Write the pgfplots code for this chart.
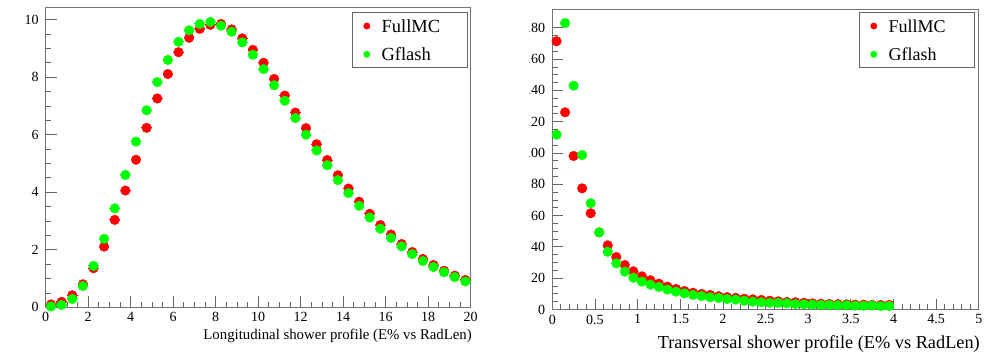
\documentclass[border=0pt]{standalone}
\usepackage{pgfplots}
\pgfplotsset{compat=1.18}
\usepackage{pgfplotstable}
\usepackage{fontspec}
\setmainfont{Liberation Serif}

\definecolor{mcred}{RGB}{255,0,0}
\definecolor{gfgreen}{RGB}{0,255,0}

% Longitudinal profile: energy fraction (%) per 0.5 X0 bin
\pgfplotstableread{
x    y
0.25 0.10
0.75 0.19
1.25 0.42
1.75 0.80
2.25 1.36
2.75 2.11
3.25 3.04
3.75 4.06
4.25 5.13
4.75 6.24
5.25 7.26
5.75 8.11
6.25 8.87
6.75 9.37
7.25 9.68
7.75 9.82
8.25 9.85
8.75 9.66
9.25 9.35
9.75 8.95
10.25 8.50
10.75 7.94
11.25 7.36
11.75 6.77
12.25 6.23
12.75 5.67
13.25 5.12
13.75 4.59
14.25 4.13
14.75 3.67
15.25 3.25
15.75 2.86
16.25 2.53
16.75 2.20
17.25 1.92
17.75 1.68
18.25 1.47
18.75 1.27
19.25 1.10
19.75 0.95
}\longfull

\pgfplotstableread{
x    y
0.25 0.03
0.75 0.08
1.25 0.29
1.75 0.74
2.25 1.44
2.75 2.38
3.25 3.44
3.75 4.60
4.25 5.76
4.75 6.85
5.25 7.83
5.75 8.60
6.25 9.23
6.75 9.63
7.25 9.85
7.75 9.92
8.25 9.79
8.75 9.58
9.25 9.21
9.75 8.78
10.25 8.28
10.75 7.72
11.25 7.18
11.75 6.58
12.25 6.00
12.75 5.45
13.25 4.94
13.75 4.42
14.25 3.97
14.75 3.53
15.25 3.12
15.75 2.73
16.25 2.41
16.75 2.12
17.25 1.85
17.75 1.61
18.25 1.40
18.75 1.22
19.25 1.05
19.75 0.90
}\longgflash

% Transversal profile: energy fraction per 0.1 bin
\pgfplotstableread{
x    y
0.05 171.4
0.15 126.0
0.25 98.1
0.35 77.4
0.45 61.5
0.55 49.3
0.65 41.0
0.75 33.5
0.85 28.4
0.95 24.4
1.05 21.2
1.15 18.7
1.25 16.5
1.35 14.6
1.45 13.1
1.55 11.8
1.65 10.7
1.75 9.9
1.85 9.3
1.95 8.5
2.05 7.9
2.15 7.4
2.25 6.9
2.35 6.5
2.45 6.1
2.55 5.6
2.65 5.2
2.75 4.8
2.85 4.6
2.95 4.3
3.05 3.9
3.15 3.7
3.25 3.5
3.35 3.4
3.45 3.3
3.55 3.1
3.65 3.1
3.75 3.0
3.85 2.9
3.95 2.9
}\transfull

\pgfplotstableread{
x    y
0.05 111.7
0.15 183.0
0.25 143.0
0.35 98.7
0.45 67.9
0.55 49.3
0.65 36.9
0.75 29.5
0.85 24.2
0.95 20.3
1.05 17.8
1.15 15.9
1.25 14.4
1.35 12.7
1.45 11.4
1.55 10.3
1.65 9.3
1.75 8.6
1.85 7.8
1.95 7.4
2.05 6.7
2.15 6.3
2.25 5.6
2.35 5.0
2.45 4.6
2.55 4.3
2.65 4.2
2.75 4.0
2.85 3.5
2.95 3.3
3.05 3.1
3.15 2.9
3.25 2.9
3.35 2.7
3.45 2.7
3.55 2.4
3.65 2.4
3.75 2.6
3.85 2.2
3.95 2.2
}\transgflash

\pgfplotsset{
  rootframe/.style={
    scale only axis,
    axis line style={black!55, line width=0.8pt},
    tick style={black!60, line width=0.8pt},
    tick align=inside,
    xtick pos=left, ytick pos=left,
    major tick length=11pt, minor tick length=5.5pt,
    /pgf/number format/assume math mode=true,
    xticklabel={\pgfmathprintnumber{\tick}},
    yticklabel={\pgfmathprintnumber{\tick}},
    ticklabel style={font=\rmfamily\fontsize{14}{16}\selectfont, text=black},
    yticklabel style={inner sep=0pt, xshift=-7pt},
    xticklabel style={inner sep=0pt, yshift=-5pt},
    legend cell align=left,
    legend image code/.code={\path (0pt,0pt) (14pt,0pt); \fill (7pt,0pt) circle (3pt);},
    legend style={draw=black!60, line width=0.8pt, fill=white,
      font=\fontsize{18.5}{20}\selectfont, text=black,
      inner xsep=7pt, inner ysep=7pt,
      nodes={inner sep=0pt, text height=12.6pt, text depth=0pt},
      row sep=15.7pt, column sep=7.4pt, anchor=north east},
  },
  fullmc/.style={only marks, mark=*, mark size=4.8pt, color=mcred,
    mark options={draw=mcred, fill=mcred},
    error bars/.cd, x dir=both, x fixed=#1, error mark=none,
    error bar style={line width=1pt}},
  gflash/.style={only marks, mark=*, mark size=4.8pt, color=gfgreen,
    mark options={draw=gfgreen, fill=gfgreen},
    error bars/.cd, x dir=both, x fixed=#1, error mark=none,
    error bar style={line width=1pt}},
}

\begin{document}
\begin{tikzpicture}[x=1pt, y=1pt]
\useasboundingbox (0,0) rectangle (990,354);

% Longitudinal shower profile
\begin{axis}[rootframe,
  at={(45.7pt,46.7pt)}, anchor=south west,
  width=425pt, height=300pt,
  xmin=0, xmax=20, ymin=0, ymax=10.43,
  xtick={0,2,...,20}, ytick={0,2,...,10},
  minor x tick num=3, minor y tick num=3,
  xlabel={Longitudinal shower profile (E\% vs RadLen)},
  xlabel style={at={(axis description cs:1,0)}, anchor=base east,
    inner sep=0pt, xshift=1.3pt, yshift=-32pt,
    font=\fontsize{14.8}{16}\selectfont},
  legend style={at={(axis description cs:0.9936,0.9833)}},
]
\addplot[fullmc=0.25] table {\longfull};
\addlegendentry{\makebox[79pt][l]{FullMC}}
\addplot[gflash=0.25] table {\longgflash};
\addlegendentry{\makebox[79pt][l]{Gflash}}
\end{axis}

% Transversal shower profile (its pad cuts the leading digits of the y labels)
\begin{scope}
\clip (529.5,0) rectangle (990,354);
\begin{axis}[rootframe,
  at={(552.3pt,44.5pt)}, anchor=south west,
  width=426.5pt, height=300.5pt,
  xmin=0, xmax=5, ymin=0, ymax=192,
  xtick={0,0.5,...,5}, ytick={0,20,...,180},
  minor x tick num=4, minor y tick num=3,
  xlabel={Transversal shower profile (E\% vs RadLen)},
  xlabel style={at={(axis description cs:1,0)}, anchor=base east,
    inner sep=0pt, xshift=1.2pt, yshift=-38.6pt,
    font=\fontsize{18.3}{20}\selectfont},
  legend style={at={(axis description cs:0.9911,0.989)},
    font=\fontsize{18}{20}\selectfont},
]
\addplot[fullmc=0.05] table {\transfull};
\addlegendentry{\makebox[79pt][l]{FullMC}}
\addplot[gflash=0.05] table {\transgflash};
\addlegendentry{\makebox[79pt][l]{Gflash}}
\end{axis}
\end{scope}
\end{tikzpicture}
\end{document}
